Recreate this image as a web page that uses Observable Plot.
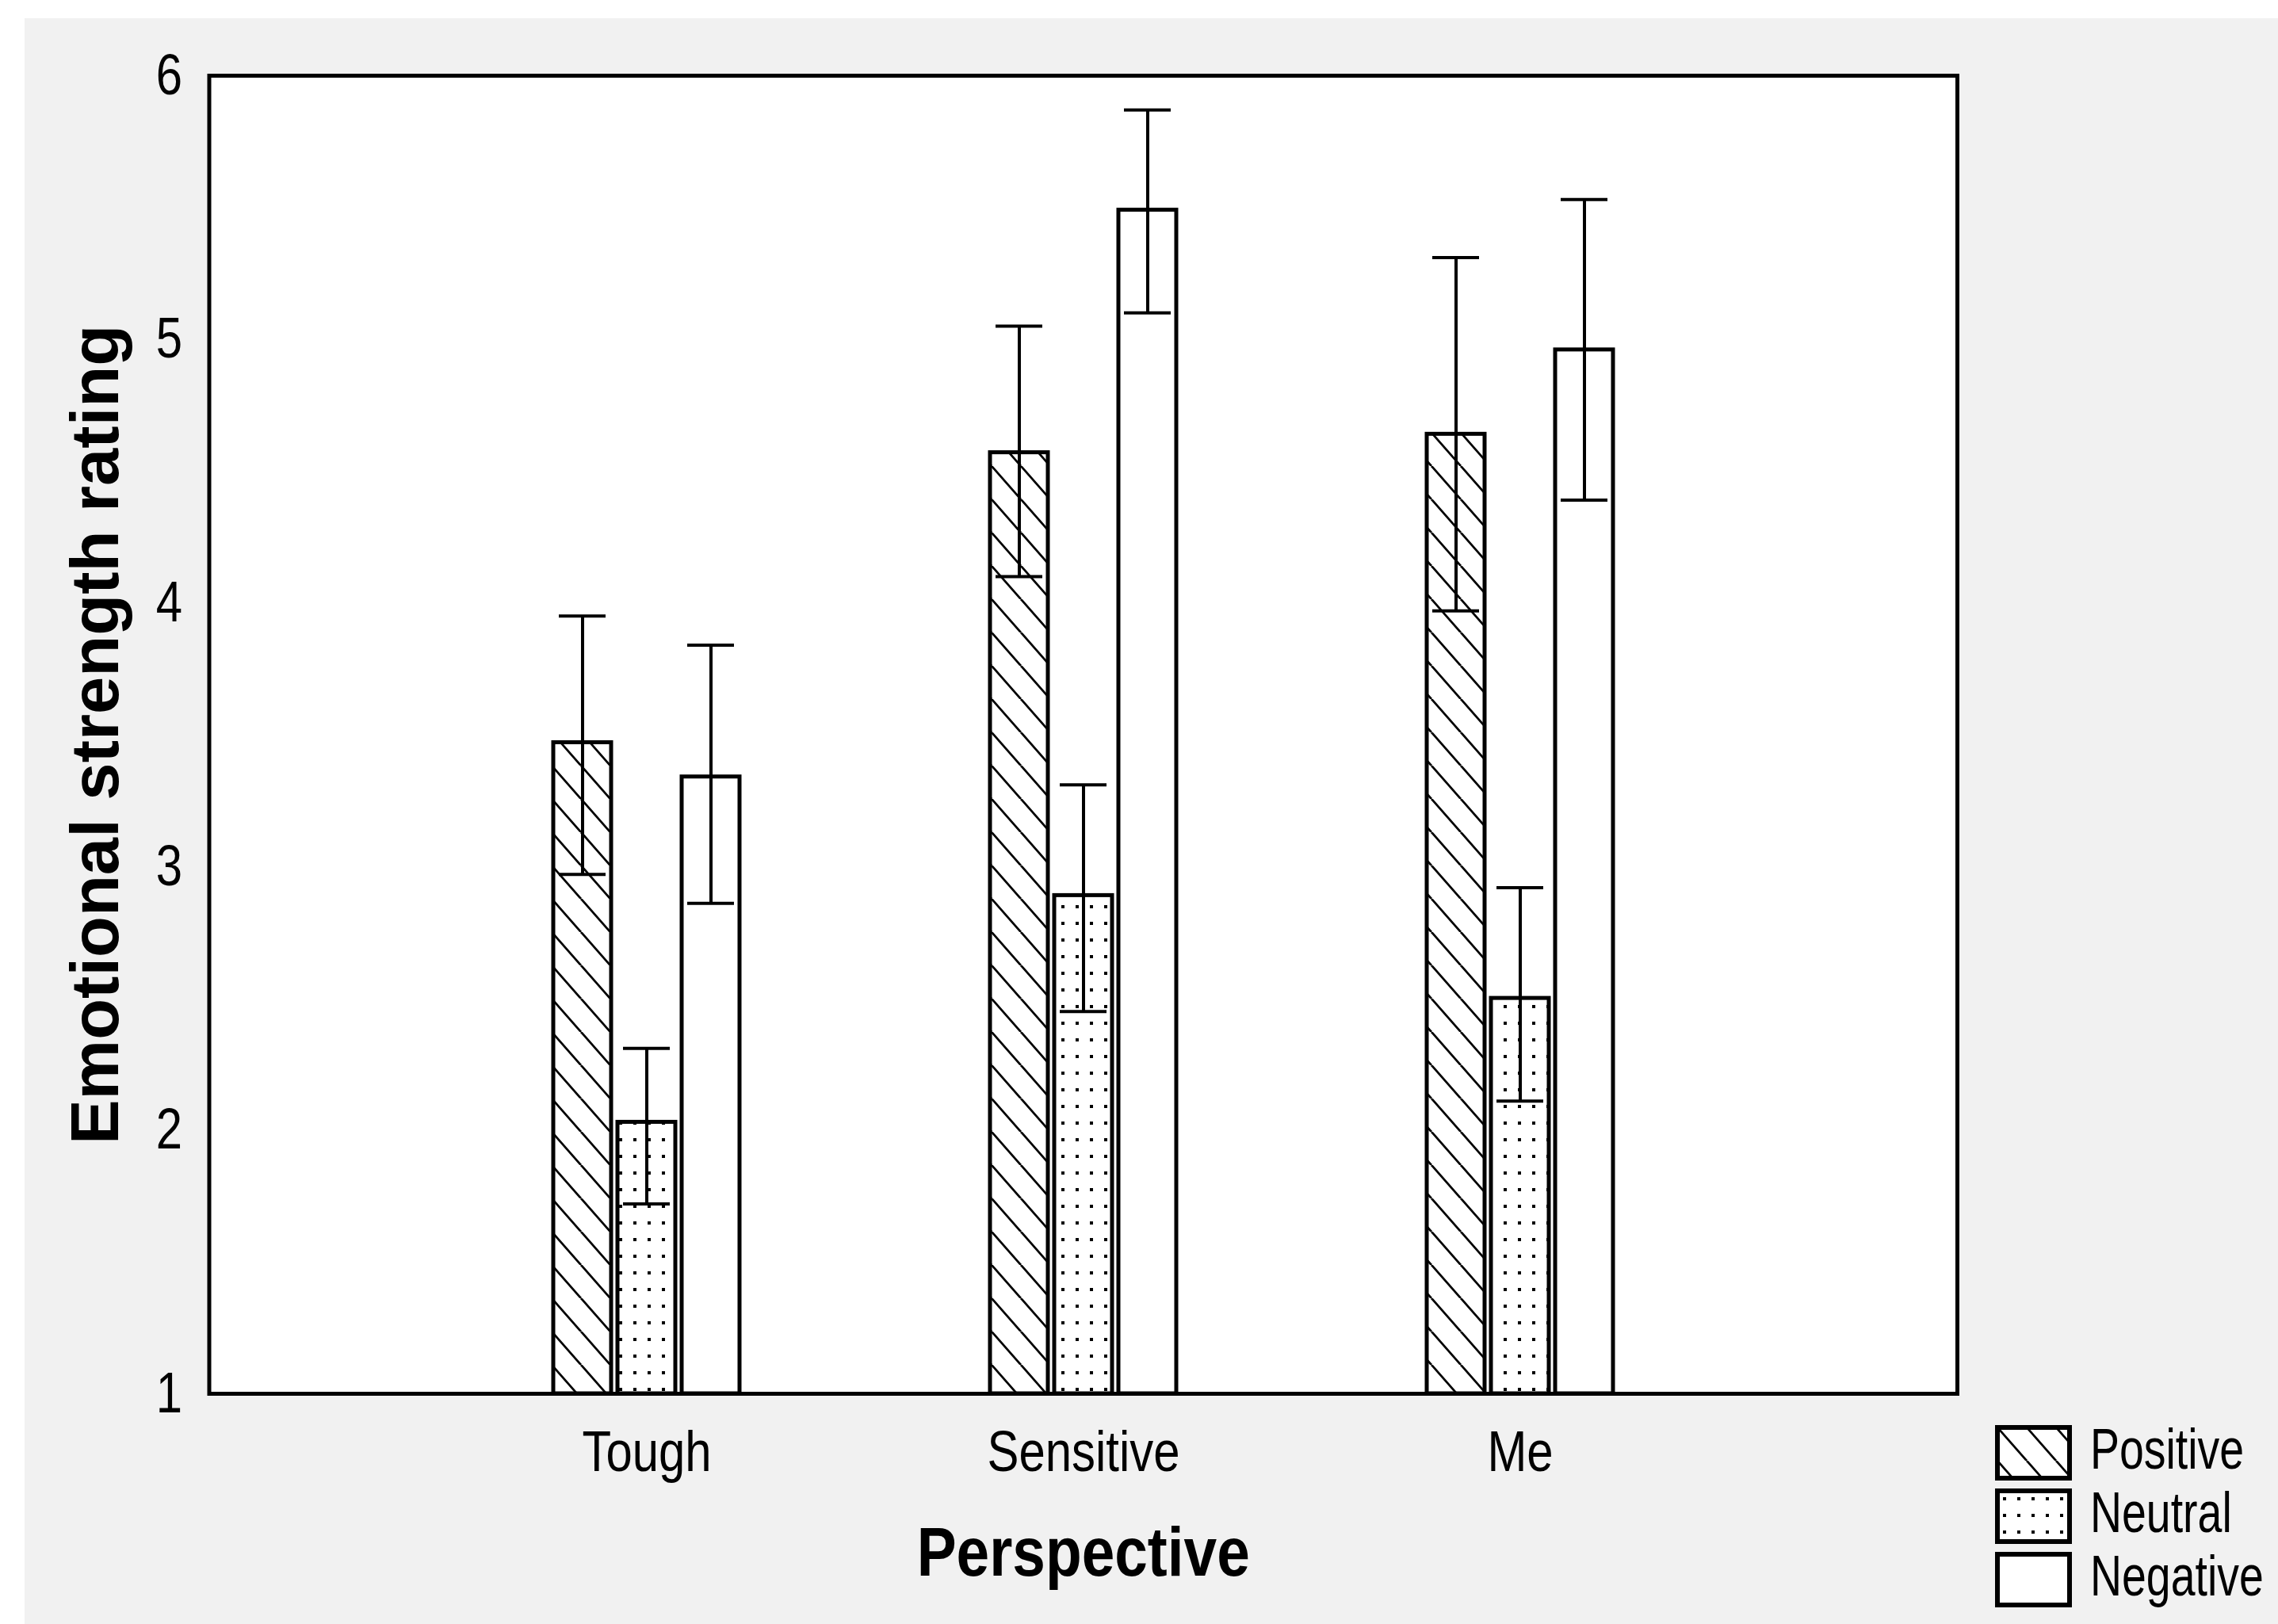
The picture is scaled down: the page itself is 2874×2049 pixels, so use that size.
<!DOCTYPE html>
<html>
<head>
<meta charset="utf-8">
<script src="https://cdn.jsdelivr.net/npm/d3@7"></script>
<script src="https://cdn.jsdelivr.net/npm/@observablehq/plot@0.6"></script>
<style>
  html, body { margin: 0; padding: 0; background: #ffffff; }
  body { width: 2874px; height: 2049px; position: relative; overflow: hidden; }
  #bg { position: absolute; left: 31px; top: 23px; right: 0; bottom: 0; background: #f1f1f1; }
  #chart { position: absolute; left: 0; top: 0; }
  #legend { position: absolute; left: 0; top: 0; overflow: visible; }
  #defs { position: absolute; left: 0; top: 0; }
</style>
</head>
<body>
<div id="bg"></div>
<svg id="defs" width="0" height="0">
  <defs>
    <pattern id="hatch" patternUnits="userSpaceOnUse" width="37" height="42">
      <rect width="37" height="42" fill="#ffffff"></rect>
      <path d="M0,0 L37,42 M-37,0 L0,42 M37,0 L74,42" stroke="#000" stroke-width="2.8" fill="none"></path>
    </pattern>
    <pattern id="dots" patternUnits="userSpaceOnUse" width="18" height="21">
      <rect width="18" height="21" fill="#ffffff"></rect>
      <rect x="7" y="8" width="4" height="4" fill="#000"></rect>
    </pattern>
  </defs>
</svg>
<div id="chart"></div>
<svg id="legend" width="2874" height="2049"></svg>
<script>
// ---- data ----
const groups = ["Tough", "Sensitive", "Me"];
const series = ["Positive", "Neutral", "Negative"];
const positiveMean = [3.47, 4.57, 4.64];
const positiveLow  = [2.97, 4.10, 3.97];
const positiveHigh = [3.95, 5.05, 5.31];
const neutralMean  = [2.03, 2.89, 2.50];
const neutralLow   = [1.72, 2.45, 2.11];
const neutralHigh  = [2.31, 3.31, 2.92];
const negativeMean = [3.34, 5.49, 4.96];
const negativeLow  = [2.86, 5.10, 4.39];
const negativeHigh = [3.84, 5.87, 5.53];
const yTicks = [1, 2, 3, 4, 5, 6];
const xTitle = "Perspective";
const yTitle = "Emotional strength rating";

// ---- styles ----
const fills = { Positive: "url(#hatch)", Neutral: "url(#dots)", Negative: "#ffffff" };
const sans = "'Liberation Sans', Arial, 'DejaVu Sans', sans-serif";
const barStep = 81;

// squeeze a text horizontally to imitate a narrow face
function squeeze(el, ratio) {
  const len = el.getComputedTextLength();
  if (len > 0) {
    el.setAttribute("textLength", (len * ratio).toFixed(1));
    el.setAttribute("lengthAdjust", "spacingAndGlyphs");
  }
}

const table = {
  Positive: [positiveMean, positiveLow, positiveHigh],
  Neutral: [neutralMean, neutralLow, neutralHigh],
  Negative: [negativeMean, negativeLow, negativeHigh]
};
const rows = series.flatMap((s) =>
  groups.map((g, i) => ({ group: g, series: s, mean: table[s][0][i], lo: table[s][1][i], hi: table[s][2][i] }))
);

const yMin = yTicks[0];
const marks = [Plot.frame({ fill: "#ffffff", stroke: "none" })];
series.forEach((s, j) => {
  const d = rows.filter((r) => r.series === s);
  const dx = (j - 1) * barStep;
  marks.push(Plot.barY(d, { x: "group", y1: () => yMin, y2: "mean", fill: fills[s], stroke: "#000", strokeWidth: 5, dx }));
});
series.forEach((s, j) => {
  const d = rows.filter((r) => r.series === s);
  const dx = (j - 1) * barStep;
  marks.push(Plot.ruleX(d, { x: "group", y1: "lo", y2: "hi", stroke: "#000", strokeWidth: 4, dx }));
  marks.push(Plot.tickY(d, { x: "group", y: "hi", stroke: "#000", strokeWidth: 4, dx, insetLeft: 7, insetRight: 7 }));
  marks.push(Plot.tickY(d, { x: "group", y: "lo", stroke: "#000", strokeWidth: 4, dx, insetLeft: 7, insetRight: 7 }));
});
marks.push(Plot.frame({ stroke: "#000", strokeWidth: 5, fill: "none" }));
marks.push(Plot.text([xTitle], { frameAnchor: "bottom", dy: 168, lineAnchor: "top", fontSize: 87, fontWeight: "bold", fontFamily: sans, fill: "#000" }));
marks.push(Plot.text([yTitle], { frameAnchor: "left", dx: -142, rotate: -90, textAnchor: "middle", lineAnchor: "middle", fontSize: 85, fontWeight: "bold", fontFamily: sans, fill: "#000" }));

const chart = Plot.plot({
  width: 2874,
  height: 2049,
  marginLeft: 263.5,
  marginRight: 405,
  marginTop: 95,
  marginBottom: 291,
  style: { background: "transparent", fontFamily: sans, fontSize: "73px", color: "#000", overflow: "visible" },
  x: { domain: groups, paddingInner: 0.8676, paddingOuter: 0.9338, tickSize: 0, tickPadding: 46, label: null },
  y: { domain: [yTicks[0], yTicks[yTicks.length - 1]], ticks: yTicks, tickSize: 0, tickPadding: 34, label: null, tickFormat: (d) => String(d) },
  marks
});
document.getElementById("chart").appendChild(chart);

// narrow look for all texts except the rotated y title
chart.querySelectorAll("text").forEach((t) => {
  const s = t.textContent.trim();
  if (s === yTitle) return;
  squeeze(t, s === xTitle ? 0.86 : 0.82);
});

// ---- legend ----
const legend = d3.select("#legend");
const lg = legend.selectAll("g").data(series).join("g")
  .attr("transform", (d, i) => `translate(2520, ${1801 + i * 80})`);
lg.append("rect").attr("width", 91).attr("height", 64)
  .attr("fill", (d) => fills[d]).attr("stroke", "#000").attr("stroke-width", 6);
lg.append("text").attr("x", 117).attr("y", 52).text((d) => d)
  .attr("font-family", sans).attr("font-size", 72).attr("fill", "#000")
  .each(function () { squeeze(this, 0.77); });
</script>
</body>
</html>
